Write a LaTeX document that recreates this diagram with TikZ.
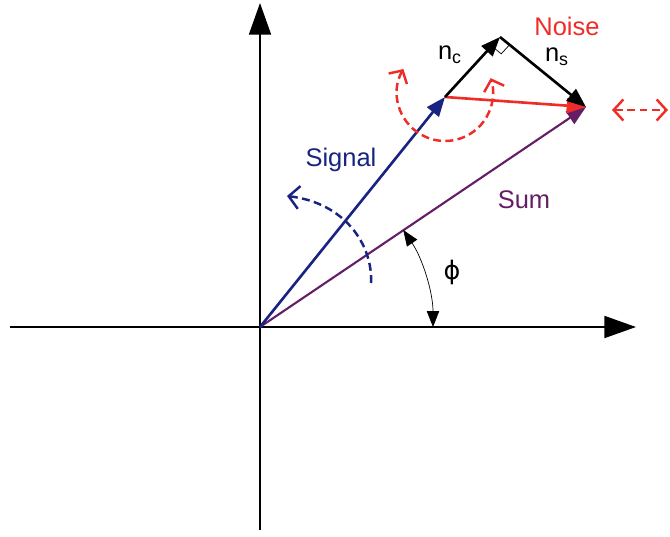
\documentclass[tikz,border=0pt]{standalone}
\usepackage{fontspec}
\setmainfont{Liberation Sans}
\newfontfamily\greekfont{DejaVu Sans}
\usetikzlibrary{arrows.meta,calc}
\definecolor{signalblue}{RGB}{25,35,130}
\definecolor{sumpurple}{RGB}{100,30,100}
\definecolor{noisered}{RGB}{238,45,40}
\tikzset{
  axis line/.style={-{Triangle[length=18pt,width=12.5pt]}, line width=1.1pt, black},
  phasor/.style={-{Triangle[length=11pt,width=8.5pt]}, line width=1.5pt},
  rotation hint/.style={dash pattern=on 4.5pt off 2.5pt, line width=1.4pt},
  hint tips/.style={{Straight Barb[length=5.5pt,width=12pt]}-{Straight Barb[length=5.5pt,width=12pt]}},
  label text/.style={font=\fontsize{14.5}{17}\selectfont, inner sep=1pt}
}

\begin{document}
\begin{tikzpicture}[x=0.02cm, y=0.02cm]
    \useasboundingbox (0,-537) rectangle (670,0);
    % axes
    \coordinate (origin) at (260,-327);
    \coordinate (xleft) at (10,-327);
    \coordinate (xright) at (636,-327);
    \coordinate (ybottom) at (260,-530);
    \coordinate (ytop) at (260,-3);
    \draw[axis line] (xleft) -- (xright);
    \draw[axis line] (ybottom) -- (ytop);

    % phasor tips
    \coordinate (signal) at (445,-97);
    \coordinate (cosine) at (500,-37);
    \coordinate (noise) at (586,-107);

    \draw[phasor, sumpurple, line width=1.2pt] (origin) -- (noise);
    \draw[phasor, signalblue] (origin) -- (signal);
    \draw[phasor, noisered] (signal) -- (noise);
    \draw[phasor, black] (signal) -- (cosine);
    \draw[phasor, black] (cosine) -- (noise);

    % right angle mark
    \coordinate (ra) at ($(cosine)!7pt!(signal)$);
    \coordinate (rb) at ($(cosine)!7pt!(noise)$);
    \draw[thin] (ra) -- ($(ra)+(rb)-(cosine)$) -- (rb);

    % phase angle
    \draw[{Triangle[length=9pt,width=7pt]}-{Triangle[length=9pt,width=7pt]}, thin]
      ([shift={(0:173)}]origin) arc[start angle=0, end angle=34.1, radius=173];

    % rotation hints
    \coordinate (blue start) at (371,-283);
    \coordinate (blue end) at (287,-196);
    \draw[rotation hint, signalblue, -{Straight Barb[length=6pt,width=13pt]}]
      (blue start) .. controls (373,-245) and (345,-203) .. (blue end);
    \coordinate (red centre) at (445,-93);
    \draw[rotation hint, noisered, hint tips]
      ([shift={(150:48)}]red centre) arc[start angle=150, end angle=378, radius=48];
    \coordinate (amp left) at (612,-110);
    \coordinate (amp right) at (668,-110);
    \draw[rotation hint, noisered, hint tips] (amp left) -- (amp right);

    % labels
    \node[label text, text=noisered] (noise label) at (567,-26) {Noise};
    \node[label text] (nc label) at (450,-55) {n\textsubscript{c}};
    \node[label text] (ns label) at (557,-57) {n\textsubscript{s}};
    \node[label text, text=signalblue] (signal label) at (341,-160) {Signal};
    \node[label text, text=sumpurple] (sum label) at (524,-200) {Sum};
    \node[label text] (phi label) at (452,-272) {\greekfont ϕ};
\end{tikzpicture}
\end{document}
